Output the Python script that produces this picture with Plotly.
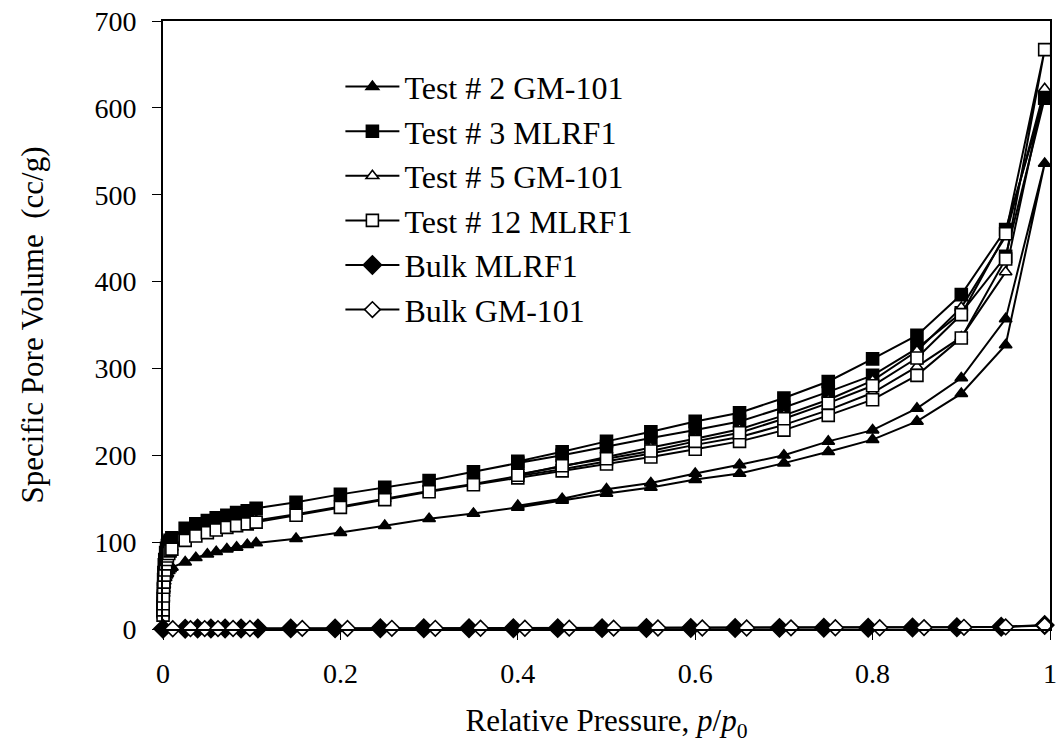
import plotly.graph_objects as go

# ---------------- data ----------------
# adsorption relative pressures (shared by the Test series)
p_ads = [0.00005, 0.0001, 0.0002, 0.0004, 0.0007, 0.001, 0.0015, 0.002, 0.003, 0.004,
         0.005, 0.0065, 0.008, 0.01, 0.025, 0.037, 0.05, 0.06, 0.072, 0.083, 0.095,
         0.105, 0.15, 0.2, 0.25, 0.3, 0.35, 0.4, 0.45, 0.5, 0.55, 0.6, 0.65, 0.7, 0.75,
         0.8, 0.85, 0.9, 0.95, 0.994]
# desorption relative pressures
p_des = [0.95, 0.9, 0.85, 0.8, 0.75, 0.7, 0.65, 0.6, 0.55, 0.5, 0.45, 0.4]

t2_ads = [18, 22, 28, 35, 41, 46, 51, 55, 59, 62, 64, 67, 69, 71, 77, 82, 86, 89, 92, 94,
          97, 99, 104, 111, 119, 127, 133, 140, 148, 156, 163, 172, 179, 191, 204, 218,
          239, 271, 327, 536]
t2_des = [357, 289, 254, 229, 216, 200, 189, 179, 168, 161, 150, 142]

t3_ads = [20, 26, 35, 46, 57, 65, 74, 80, 88, 93, 96, 100, 102, 105, 116, 121, 125, 128,
          131, 134, 136, 139, 146, 155, 163, 171, 181, 191, 200, 210, 220, 229, 239, 255,
          273, 292, 323, 364, 429, 611]
t3_des = [460, 385, 338, 311, 285, 266, 249, 239, 227, 216, 204, 193]

t5_ads = [18, 24, 31, 40, 50, 56, 64, 70, 77, 82, 85, 89, 91, 94, 103, 108, 112, 115, 118,
          120, 123, 125, 132, 141, 150, 159, 167, 176, 184, 193, 202, 212, 221, 235, 252,
          272, 302, 336, 411, 622]
t5_des = [452, 370, 320, 286, 264, 246, 230, 219, 209, 198, 187, 178]

t12_ads = [16, 22, 29, 38, 48, 54, 62, 68, 75, 80, 84, 87, 90, 92, 102, 107, 111, 114, 117,
           119, 121, 123, 131, 140, 149, 158, 166, 174, 182, 190, 198, 207, 216, 229, 246,
           264, 292, 335, 426, 667]
t12_des = [455, 362, 312, 280, 260, 242, 226, 216, 205, 196, 188, 177]

bulk_m_p = [0.0, 0.025, 0.039, 0.054, 0.07, 0.088, 0.107, 0.144, 0.194, 0.245, 0.294,
            0.345, 0.395, 0.445, 0.495, 0.545, 0.595, 0.645, 0.695, 0.745, 0.795, 0.845,
            0.895, 0.945, 0.994]
bulk_m_v = [0.2, 0.4, 0.5, 0.5, 0.6, 0.6, 0.6, 0.7, 0.7, 0.8, 0.8, 0.9, 0.9, 1.0, 1.0,
            1.1, 1.1, 1.2, 1.3, 1.4, 1.5, 1.7, 2.0, 2.6, 4.5]
bulk_g_p = [0.011, 0.031, 0.047, 0.062, 0.079, 0.098, 0.157, 0.208, 0.258, 0.307, 0.358,
            0.408, 0.458, 0.508, 0.558, 0.608, 0.658, 0.708, 0.758, 0.808, 0.858, 0.903,
            0.95, 0.994]
bulk_g_v = [0.3, 0.4, 0.5, 0.5, 0.6, 0.6, 0.7, 0.7, 0.8, 0.8, 0.9, 0.9, 1.0, 1.0, 1.1,
            1.1, 1.2, 1.3, 1.4, 1.5, 1.6, 1.9, 2.4, 4.0]

names = ["Test # 2 GM-101", "Test # 3 MLRF1", "Test # 5 GM-101", "Test # 12 MLRF1",
         "Bulk MLRF1", "Bulk GM-101"]

# ---------------- figure ----------------
FONT = "Liberation Serif"
fig = go.Figure()

def add(name, xs, ys, symbol, fill, size):
    fig.add_trace(go.Scatter(
        x=xs, y=ys, name=name, mode="lines+markers",
        line=dict(color="black", width=2),
        marker=dict(symbol=symbol, size=size, color=fill,
                    line=dict(color="black", width=1.6)),
        cliponaxis=False))

add(names[0], p_ads + p_des, t2_ads + t2_des, "triangle-up", "black", 11)
add(names[1], p_ads + p_des, t3_ads + t3_des, "square", "black", 12)
add(names[2], p_ads + p_des, t5_ads + t5_des, "triangle-up", "white", 11)
add(names[3], p_ads + p_des, t12_ads + t12_des, "square", "white", 12)
add(names[4], bulk_m_p, bulk_m_v, "diamond", "black", 14)
add(names[5], bulk_g_p, bulk_g_v, "diamond", "white", 12)

axis_common = dict(showline=True, linecolor="black", linewidth=2, mirror=True,
                   ticks="outside", ticklen=9, tickwidth=1, tickcolor="black",
                   showgrid=False, zeroline=False,
                   tickfont=dict(family=FONT, size=28, color="black"))

fig.update_layout(
    width=1062, height=748,
    margin=dict(l=163, r=5, t=21, b=119),
    paper_bgcolor="white", plot_bgcolor="white",
    font=dict(family=FONT, color="black"),
    showlegend=True,
    legend=dict(x=0.2, y=0.937, xanchor="left", yanchor="top",
                bgcolor="rgba(0,0,0,0)", itemwidth=54,
                font=dict(family=FONT, size=32, color="black"),
                tracegroupgap=0),
    xaxis=dict(range=[0, 1], tickvals=[0, 0.2, 0.4, 0.6, 0.8, 1],
               ticktext=["0", "0.2", "0.4", "0.6", "0.8", "1"],
               ticklabelstandoff=9,
               title=dict(text="Relative Pressure, <i>p</i>/<i>p</i><sub>0</sub>",
                          font=dict(family=FONT, size=31, color="black"), standoff=22),
               **axis_common),
    yaxis=dict(range=[0, 700], tickvals=[0, 100, 200, 300, 400, 500, 600, 700],
               ticklabelstandoff=10,
               title=dict(text="Specific Pore Volume  (cc/g)",
                          font=dict(family=FONT, size=31, color="black"), standoff=42),
               **axis_common),
)

fig.write_html("out.html")
